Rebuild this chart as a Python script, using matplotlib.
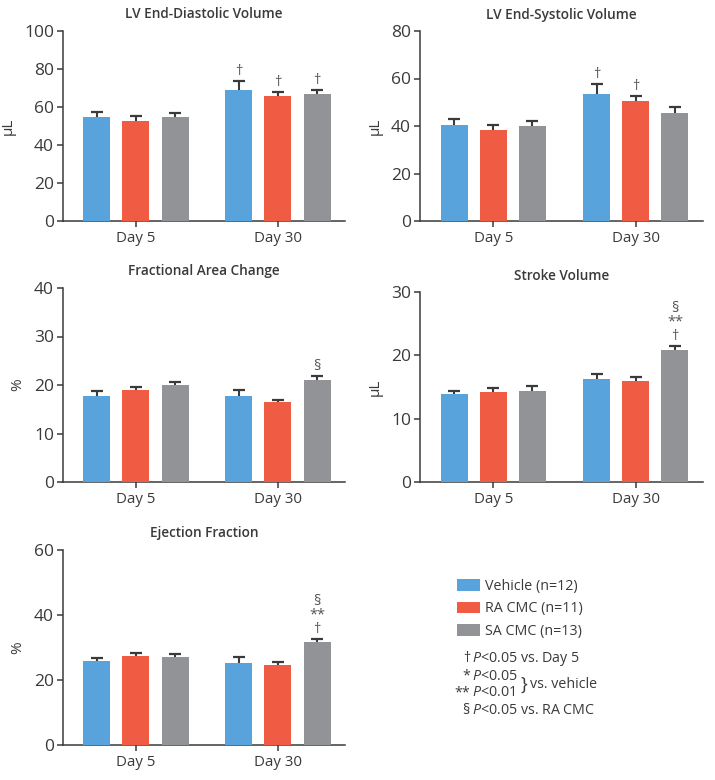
import numpy as np
import matplotlib.pyplot as plt
from matplotlib.patches import Patch

plt.rcParams['font.family'] = ['Open Sans', 'DejaVu Sans']
plt.rcParams['mathtext.fontset'] = 'custom'
plt.rcParams['mathtext.rm'] = 'Open Sans'
plt.rcParams['mathtext.it'] = 'Open Sans:italic'

# data (mean, upper error bar end)
days = ['Day 5', 'Day 30']
groups = ['Vehicle (n=12)', 'RA CMC (n=11)', 'SA CMC (n=13)']
colors = ['#58A3DC', '#EF5B43', '#929396']

edv_mean = [[54.6, 69.0], [52.4, 65.8], [54.6, 66.7]]
edv_top = [[57.3, 73.5], [55.0, 68.1], [56.9, 69.0]]
esv_mean = [[40.6, 53.4], [38.2, 50.6], [40.0, 45.5]]
esv_top = [[43.1, 57.6], [40.5, 52.7], [42.2, 47.8]]
fac_mean = [[17.8, 17.7], [19.0, 16.4], [19.9, 21.1]]
fac_top = [[18.8, 19.0], [19.6, 17.0], [20.6, 21.8]]
sv_mean = [[13.9, 16.3], [14.2, 16.0], [14.4, 20.8]]
sv_top = [[14.4, 17.1], [14.8, 16.6], [15.2, 21.5]]
ef_mean = [[25.9, 25.1], [27.4, 24.7], [27.0, 31.7]]
ef_top = [[26.9, 27.2], [28.4, 25.5], [28.0, 32.7]]

# significance marks: (group, day) -> list of symbols bottom to top
edv_marks = {(0, 1): ['†'], (1, 1): ['†'], (2, 1): ['†']}
esv_marks = {(0, 1): ['†'], (1, 1): ['†']}
fac_marks = {(2, 1): ['§']}
sv_marks = {(2, 1): ['†', '**', '§']}
ef_marks = {(2, 1): ['†', '**', '§']}

W, H = 715, 780
dark = '#3a3a3a'
fig = plt.figure(figsize=(W / 100, H / 100), dpi=100)


def px_axes(x0, y0, x1, y1):
    return fig.add_axes([x0 / W, 1 - y1 / H, (x1 - x0) / W, (y1 - y0) / H])


def panel(ax, title, ylabel, means, tops, ymax, step, marks):
    x = np.arange(len(days))
    offs = [-0.275, 0, 0.275]
    for g in range(3):
        m = np.array(means[g])
        t = np.array(tops[g])
        ax.bar(x + offs[g], m, width=0.19, color=colors[g], zorder=3)
        # upper error bar only
        ax.vlines(x + offs[g], m - ymax * 0.01, t, color=dark, lw=1.5, zorder=2)
        ax.plot(x + offs[g], t, ls='none', marker='_', ms=9, mew=1.6, color=dark, zorder=2)
    for (g, d), syms in marks.items():
        for i, s in enumerate(syms):
            ax.annotate(s, (d + offs[g], tops[g][d]), xytext=(0, 1.5 + 10 * i),
                        textcoords='offset points', ha='center', va='bottom',
                        fontsize=10.5, color='#555555')
    ax.set_xlim(-0.514, 1.472)
    ax.set_ylim(0, ymax)
    ax.set_yticks(np.arange(0, ymax + 0.1, step))
    ax.set_xticks(x)
    ax.set_xticklabels(days, fontsize=10.8)
    ax.tick_params(axis='y', labelsize=12.5, length=4.5, width=1.1, colors=dark, pad=2)
    ax.tick_params(axis='x', length=4, width=1.1, colors=dark, pad=3)
    for sp in ['top', 'right']:
        ax.spines[sp].set_visible(False)
    for sp in ['left', 'bottom']:
        ax.spines[sp].set_color(dark)
        ax.spines[sp].set_linewidth(1.1)
    ax.set_ylabel(ylabel, fontsize=11, color=dark, labelpad=6)
    ax.set_title(title, fontsize=9.8, fontweight='semibold', color=dark, pad=9)


ax1 = px_axes(63, 31, 345, 221)
panel(ax1, 'LV End-Diastolic Volume', 'µL', edv_mean, edv_top, 100, 20, edv_marks)
ax2 = px_axes(420, 31, 703, 221)
panel(ax2, 'LV End-Systolic Volume', 'µL', esv_mean, esv_top, 80, 20, esv_marks)
ax3 = px_axes(63, 288, 345, 482)
panel(ax3, 'Fractional Area Change', '%', fac_mean, fac_top, 40, 10, fac_marks)
ax4 = px_axes(420, 292, 703, 482)
panel(ax4, 'Stroke Volume', 'µL', sv_mean, sv_top, 30, 10, sv_marks)
ax5 = px_axes(63, 550, 345, 745)
panel(ax5, 'Ejection Fraction', '%', ef_mean, ef_top, 60, 20, ef_marks)

handles = [Patch(facecolor=c) for c in colors]
fig.legend(handles, groups, loc='upper left', bbox_to_anchor=(444 / W, 1 - 566 / H),
           frameon=False, fontsize=10.3, handlelength=1.6, handleheight=0.85,
           handletextpad=0.35, labelspacing=0.52, labelcolor=dark)

notes = [('†', r'$P$<0.05 vs. Day 5', 659),
         ('*', r'$P$<0.05', 676),
         ('**', r'$P$<0.01', 693),
         ('§', r'$P$<0.05 vs. RA CMC', 710)]
for sym, txt, yp in notes:
    fig.text(470 / W, 1 - yp / H, sym, ha='right', va='center', fontsize=10.3, color=dark)
    fig.text(472 / W, 1 - yp / H, txt, ha='left', va='center', fontsize=10.3, color=dark)
fig.text(520 / W, 1 - 685 / H, '}', ha='left', va='center', fontsize=13, color=dark)
fig.text(530 / W, 1 - 685 / H, 'vs. vehicle', ha='left', va='center', fontsize=10.3, color=dark)

fig.savefig('out.png', dpi=100)
